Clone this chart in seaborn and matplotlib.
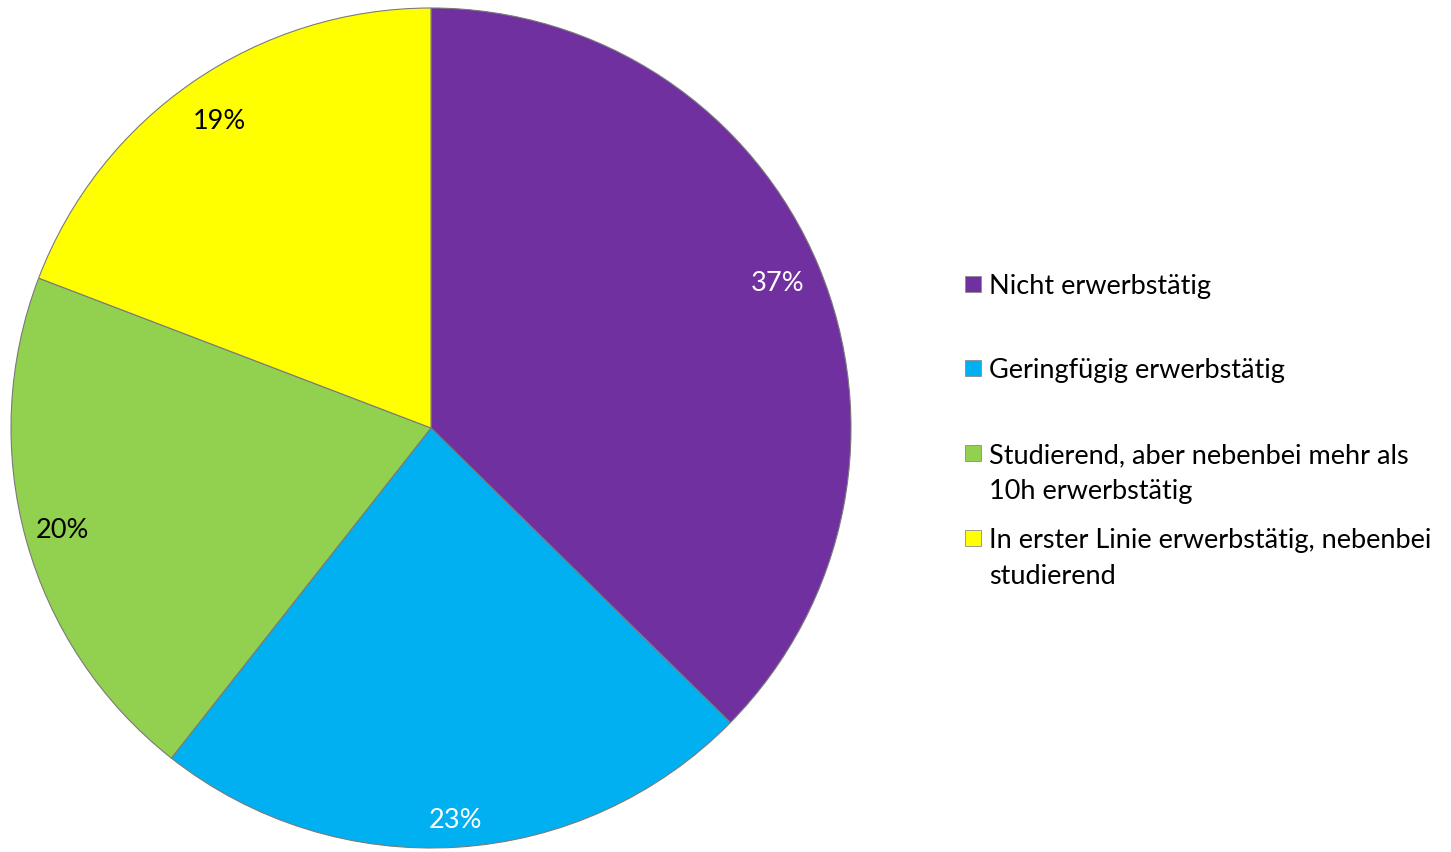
import matplotlib
matplotlib.use("Agg")
import matplotlib.pyplot as plt
from matplotlib.patches import Rectangle
import numpy as np
import seaborn as sns

# Anteile nach Erwerbsstatus (in %)
categories = [
    "Nicht erwerbstätig",
    "Geringfügig erwerbstätig",
    "Studierend, aber nebenbei mehr als\n10h erwerbstätig",
    "In erster Linie erwerbstätig, nebenbei\nstudierend",
]
values = [37, 23, 20, 19]
colors = ["#7030A0", "#00B0F0", "#92D050", "#FFFF00"]
label_colors = ["white", "white", "black", "black"]

sns.set_theme(style="white")
plt.rcParams["font.family"] = ["Lato", "DejaVu Sans"]

W, H = 1451, 853
fig = plt.figure(figsize=(W / 100, H / 100), dpi=100)
fig.patch.set_facecolor("white")

# Pie axes: centre (431, 429) px, radius 420 px
cx, cy, r = 431, 429, 420
ax = fig.add_axes([(cx - r) / W, (H - cy - r) / H, 2 * r / W, 2 * r / H])

wedges, texts, autotexts = ax.pie(
    values,
    colors=colors,
    startangle=90,
    counterclock=False,
    radius=1.0,
    autopct=lambda p: f"{p * sum(values) / 100:.0f}%",
    pctdistance=0.91,
    wedgeprops=dict(edgecolor="#7a7a7a", linewidth=0.8),
    textprops=dict(fontsize=19.5),
)
# fine placement of the percentage labels along each wedge's bisector
label_dist = [0.895, 0.935, 0.91, 0.89]
for t, c, d in zip(autotexts, label_colors, label_dist):
    t.set_color(c)
    x, y = t.get_position()
    n = np.hypot(x, y)
    t.set_position((x / n * d, y / n * d))
ax.set_xlim(-1, 1)
ax.set_ylim(-1, 1)
ax.set_aspect("equal")
ax.axis("off")

# Legend drawn entry by entry at a fixed pitch
line_y = [285, 369, 454, 539]
sq = 16
for y, lab, col in zip(line_y, categories, colors):
    fig.patches.append(
        Rectangle((965 / W, (H - y - sq / 2) / H), sq / W, sq / H,
                  transform=fig.transFigure, facecolor=col,
                  edgecolor="#8c8c8c", linewidth=0.6)
    )
    fig.text(989 / W, (H - y + 11) / H, lab, fontsize=19.5, color="black",
             ha="left", va="top", linespacing=1.55)

fig.savefig("out.png", dpi=100, facecolor="white")
